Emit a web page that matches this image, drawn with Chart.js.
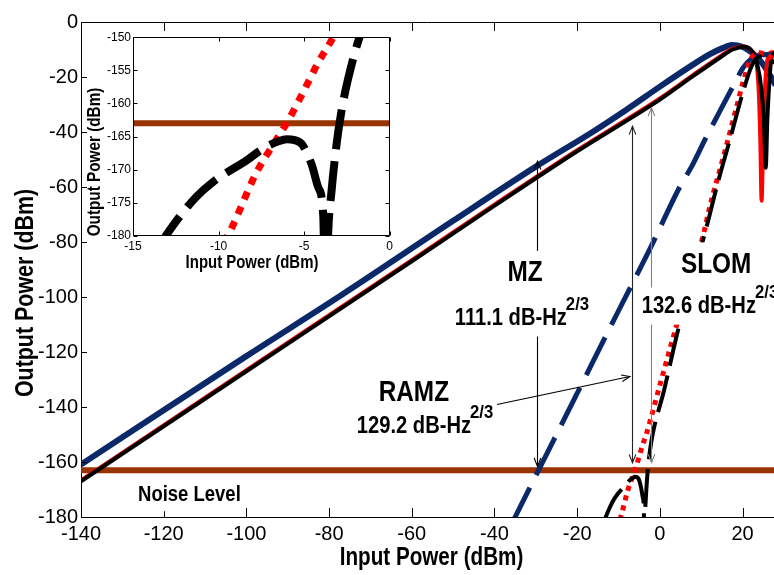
<!DOCTYPE html>
<html>
<head>
<meta charset="utf-8">
<script src="https://cdn.jsdelivr.net/npm/chart.js@4/dist/chart.umd.min.js"></script>
<style>
html,body{margin:0;padding:0;background:#fff;}
#wrap{position:relative;width:774px;height:575px;overflow:hidden;}
#main{position:absolute;left:0;top:0;}
#inset{position:absolute;left:84px;top:28px;}
</style>
</head>
<body>
<div id="wrap">
<canvas id="main" width="774" height="575"></canvas>
<canvas id="inset" width="312" height="248"></canvas>
</div>
<script>
// ---- Data: input power (dBm) -> output power (dBm) ----
const mzFundIn  = [-140, -100, -77, -50, -30, -16, -8, 0, 8, 12, 15, 17.4, 19.8, 22.2, 24.5, 26.5, 28];
const mzFundOut = [-160.9, -121.5, -99.3, -72.3, -52.6, -39.7, -31.8, -23.5, -15.5, -11.8, -9.6, -8.4, -8.9, -11.1, -14.5, -19, -23];

const mzImdIn  = [-36, -30, -20, -10, -2.4, 4.8, 7.7, 11, 14.1, 18, 20.1, 22, 24, 26, 28];
const mzImdOut = [-183, -165, -135, -105, -82.5, -60, -52.5, -42.5, -33.6, -22.5, -16.7, -13.5, -12, -11.8, -12.5];

const ramzFundIn  = [-140, -100, -60, -40, -20, 0, 8, 14.5, 17.6, 20.6, 22.5, 23.2, 23.9, 24.3, 24.6, 24.9, 25.4, 26.1, 27, 28];
const ramzFundOut = [-166.7, -126.6, -86.6, -66.4, -46.6, -27.8, -19.3, -12.6, -9.7, -8.9, -11, -13, -25, -43.5, -65, -49, -25, -13, -11, -11];

const ramzImdIn  = [-9.7, -9.29, -7.84, -6.68, -5.91, -4.94, -4.17, -3.3, 0, 4, 8, 10.4, 12.1, 15.3, 18.5, 20.1, 21.8, 23.5, 25, 27, 28];
const ramzImdOut = [-181, -179.1, -170.7, -165.7, -162.5, -157.7, -153.8, -150, -132, -110.5, -89.5, -78, -67, -49.4, -31.2, -22, -14, -11.2, -11.5, -13, -14];

const slomFundIn  = [-140, -100, -60, -40, -20, 0, 8, 14.5, 17.6, 20.5, 22.5, 23.4, 24.6, 25.2, 25.6, 26.0, 26.6, 27, 28];
const slomFundOut = [-167, -127, -87, -66.8, -47, -28.2, -19.7, -13, -10, -9, -11, -14.3, -25.2, -38, -53, -35, -19, -13, -11];

const slomImdIn  = [-13.6, -13.09, -12.28, -11.31, -10.35, -9.38, -8.42, -7.45, -6.49, -6.0, -5.23, -4.56, -4.17, -3.88, -3.75, -3.6, -3.4, -3.11, -2.82, -2.43, -1.76, 1, 4.4, 8, 11.3, 14, 16.9, 20.1, 22.2, 24, 25.5, 27, 28];
const slomImdOut = [-182, -180, -177.1, -174.1, -171.9, -170.2, -168.7, -166.9, -165.7, -165.4, -165.9, -169.2, -172.7, -177, -195, -180, -173.3, -166.3, -161.2, -156.3, -150, -134, -112, -92.5, -74.5, -58.5, -43, -25.5, -16, -12.5, -12.8, -14, -15];

const noiseIn  = [-140, 28];
const noiseOut = [-163, -163];

// ---- Tick values ----
const xTicksMain  = [-140, -120, -100, -80, -60, -40, -20, 0, 20];
const yTicksMain  = [-180, -160, -140, -120, -100, -80, -60, -40, -20, 0];
const xTicksInset = [-15, -10, -5, 0];
const yTicksInset = [-180, -175, -170, -165, -160, -155, -150];

// ---- Text ----
const noteTexts = ['MZ', '111.1 dB-Hz', 'RAMZ', '129.2 dB-Hz', 'SLOM', '132.6 dB-Hz', 'Noise Level'];
const supText = '2/3';
const xTitle = 'Input Power (dBm)';
const yTitle = 'Output Power (dBm)';

// ---- styling / placement ----
const NAVY = '#0b2868', RED = '#ff0000', BLACK = '#000000', BROWN = '#993300';
const notes = [
  {i:0, x:-32.6, y:-94.3, size:29, align:'center', below:0.68},
  {i:1, x:-49.6, y:-110.0, size:24, sup:true, below:0.5},
  {i:2, x:-59.5, y:-137.9, size:29, align:'center', below:0.5},
  {i:3, x:-73.3, y:-149.4, size:24, sup:true, below:0.5},
  {i:4, x:13.6, y:-91.2, size:29, align:'center', below:0.6},
  {i:5, x:-4.4, y:-105.7, size:24, sup:true, below:0.5},
  {i:6, x:-126.2, y:-174.3, size:22, below:0.45}
];
const vArrows = [
  {x:-29.7, from:-50.6, to:-161.6, color:'#000'},
  {x:-6.8, from:-37.9, to:-160.3, color:'#222'},
  {x:-2.2, from:-31.2, to:-160.2, color:'#808080'}
];
const slantArrow = {from:[-39.4,-139.1], to:[-7.25,-128.9]};

const pts = (xs, ys) => xs.map((x, i) => ({x, y: ys[i]}));
const FONT = "'Liberation Sans', Arial, sans-serif";

function measure(ctx, str, size, sx) {
  ctx.save(); ctx.font = 'bold ' + size + 'px ' + FONT;
  const w = ctx.measureText(str).width * sx; ctx.restore(); return w;
}
function condText(ctx, str, x, y, size, sx, rot) {
  ctx.save();
  ctx.font = 'bold ' + size + 'px ' + FONT;
  ctx.textBaseline = 'alphabetic';
  ctx.textAlign = 'left';
  ctx.translate(x, y);
  if (rot) ctx.rotate(rot);
  ctx.scale(sx, 1);
  ctx.fillStyle = '#000';
  ctx.fillText(str, 0, 0);
  ctx.restore();
}
function arrowHead(ctx, x1, y1, x2, y2) {
  const ang = Math.atan2(y2 - y1, x2 - x1), L = 9, A = 0.38;
  ctx.beginPath();
  ctx.moveTo(x2 - L * Math.cos(ang - A), y2 - L * Math.sin(ang - A));
  ctx.lineTo(x2, y2);
  ctx.lineTo(x2 - L * Math.cos(ang + A), y2 - L * Math.sin(ang + A));
  ctx.stroke();
}

const mainDeco = {
  id: 'mainDeco',
  afterDraw(chart) {
    const {ctx, chartArea: a} = chart;
    const X = chart.scales.x, Y = chart.scales.y;
    const px = v => X.getPixelForValue(v), py = v => Y.getPixelForValue(v);
    ctx.save();
    ctx.strokeStyle = '#000'; ctx.lineWidth = 1;
    ctx.beginPath();
    const top = Math.round(a.top) + 0.5;
    ctx.moveTo(a.left, top); ctx.lineTo(a.right, top);
    X.ticks.forEach(t => {
      const xx = Math.round(px(t.value)) + 0.5;
      ctx.moveTo(xx, a.bottom); ctx.lineTo(xx, a.bottom - 9);
      ctx.moveTo(xx, a.top); ctx.lineTo(xx, a.top + 9);
    });
    Y.ticks.forEach(t => {
      const yy = Math.round(py(t.value)) + 0.5;
      ctx.moveTo(a.left, yy); ctx.lineTo(a.left + 6, yy);
    });
    ctx.stroke();
    // arrows
    vArrows.forEach(ar => {
      ctx.strokeStyle = ar.color; ctx.lineWidth = 1.1;
      const xx = Math.round(px(ar.x)) + 0.5;
      ctx.beginPath(); ctx.moveTo(xx, py(ar.from)); ctx.lineTo(xx, py(ar.to)); ctx.stroke();
      arrowHead(ctx, xx, py(ar.from) + 20, xx, py(ar.from));
      arrowHead(ctx, xx, py(ar.to) - 20, xx, py(ar.to));
    });
    ctx.strokeStyle = '#000'; ctx.lineWidth = 1.1;
    const fx = px(slantArrow.from[0]), fy = py(slantArrow.from[1]);
    const tx = px(slantArrow.to[0]), ty = py(slantArrow.to[1]);
    ctx.beginPath(); ctx.moveTo(fx, fy); ctx.lineTo(tx, ty); ctx.stroke();
    arrowHead(ctx, fx, fy, tx, ty);
    // text with white background boxes
    const SX = 0.84, SUPSX = 0.88, SUP = 19;
    notes.forEach(n => {
      const str = noteTexts[n.i];
      const w = measure(ctx, str, n.size, SX);
      const x0 = n.align === 'center' ? px(n.x) - w / 2 : px(n.x);
      const base = py(n.y);
      let right = x0 + w;
      if (n.sup) right += measure(ctx, supText, SUP, SUPSX) - 1;
      ctx.fillStyle = '#fff';
      ctx.fillRect(x0 - 4, base - n.size * 1.05, right - x0 + 8, n.size * (1.05 + n.below));
      condText(ctx, str, x0, base, n.size, SX);
      if (n.sup) condText(ctx, supText, x0 + w - 1, base - 15, SUP, SUPSX);
    });
    // axis titles (condensed bold)
    const tw = measure(ctx, xTitle, 25.5, 0.81);
    condText(ctx, xTitle, (a.left + a.right) / 2 + 4 - tw / 2, 565, 25.5, 0.81);
    const yw = measure(ctx, yTitle, 25.5, 0.84);
    condText(ctx, yTitle, 33, 293 + yw / 2, 25.5, 0.84, -Math.PI / 2);
    ctx.restore();
  }
};

const insetDeco = {
  id: 'insetDeco',
  afterDraw(chart) {
    const {ctx, chartArea: a} = chart;
    const X = chart.scales.x, Y = chart.scales.y;
    ctx.save();
    ctx.strokeStyle = '#000'; ctx.lineWidth = 1;
    ctx.beginPath();
    const l = Math.round(a.left) + 0.5, r = Math.round(a.right) - 0.5, t = Math.round(a.top) + 0.5, b = Math.round(a.bottom) - 0.5;
    ctx.rect(l, t, r - l, b - t);
    X.ticks.forEach(tk => {
      const xx = Math.round(X.getPixelForValue(tk.value)) + 0.5;
      ctx.moveTo(xx, b); ctx.lineTo(xx, b - 4);
      ctx.moveTo(xx, t); ctx.lineTo(xx, t + 4);
    });
    Y.ticks.forEach(tk => {
      const yy = Math.round(Y.getPixelForValue(tk.value)) + 0.5;
      ctx.moveTo(l, yy); ctx.lineTo(l + 4, yy);
      ctx.moveTo(r, yy); ctx.lineTo(r - 4, yy);
    });
    ctx.stroke();
    const tw = measure(ctx, xTitle, 18, 0.83);
    condText(ctx, xTitle, 168 - tw / 2, 240, 18, 0.83);
    const yw = measure(ctx, yTitle, 18, 0.85);
    condText(ctx, yTitle, 16, 134 + yw / 2, 18, 0.85, -Math.PI / 2);
    ctx.restore();
  }
};

function line(data, color, width, dash, order) {
  return {data, borderColor: color, backgroundColor: color, borderWidth: width, borderDash: dash || [],
    pointRadius: 0, showLine: true, fill: false, cubicInterpolationMode: 'monotone', order,
    borderJoinStyle: 'round'};
}

new Chart(document.getElementById('main'), {
  type: 'scatter',
  data: {
    datasets: [
      line(pts(slomImdIn, slomImdOut), BLACK, 4, [38, 10], 1),
      line(pts(ramzImdIn, ramzImdOut), RED, 5, [5, 5], 2),
      line(pts(mzImdIn, mzImdOut), NAVY, 5, [42, 14], 3),
      line(pts(slomFundIn, slomFundOut), BLACK, 4, null, 4),
      line(pts(ramzFundIn, ramzFundOut), RED, 4, null, 5),
      line(pts(mzFundIn, mzFundOut), NAVY, 6, null, 6),
      {...line(pts(noiseIn, noiseOut), BROWN, 6, null, 7), cubicInterpolationMode: 'default', tension: 0}
    ]
  },
  options: {
    responsive: false, animation: false, devicePixelRatio: 1,
    layout: {padding: {top: 22, right: 0, bottom: 0, left: 0}},
    plugins: {legend: {display: false}, tooltip: {enabled: false}},
    scales: {
      x: {
        type: 'linear', min: -140, max: 27.6,
        afterBuildTicks: s => { s.ticks = xTicksMain.map(v => ({value: v})); },
        afterFit: s => { s.height = 58; },
        ticks: {color: '#000', font: {family: FONT, size: 20}, padding: 5, maxRotation: 0, autoSkip: false},
        grid: {display: false, drawTicks: false},
        border: {display: true, color: '#000', width: 1},
        title: {display: false}
      },
      y: {
        type: 'linear', min: -180, max: 0,
        afterBuildTicks: s => { s.ticks = yTicksMain.map(v => ({value: v})); },
        afterFit: s => { s.width = 81; },
        ticks: {color: '#000', font: {family: FONT, size: 20}, padding: 3, autoSkip: false},
        grid: {display: false, drawTicks: false},
        border: {display: true, color: '#000', width: 1},
        title: {display: false}
      }
    }
  },
  plugins: [mainDeco]
});

new Chart(document.getElementById('inset'), {
  type: 'scatter',
  data: {
    datasets: [
      line(pts(slomImdIn, slomImdOut), BLACK, 8, [40, 12], 1),
      line(pts(ramzImdIn, ramzImdOut), RED, 7, [8, 8], 2),
      {...line(pts(noiseIn, noiseOut), BROWN, 6, null, 3), cubicInterpolationMode: 'default', tension: 0}
    ]
  },
  options: {
    responsive: false, animation: false, devicePixelRatio: 1,
    layout: {padding: {top: 7, right: 4, bottom: 0, left: 0}},
    plugins: {legend: {display: false}, tooltip: {enabled: false}},
    scales: {
      x: {
        type: 'linear', min: -15, max: 0,
        afterBuildTicks: s => { s.ticks = xTicksInset.map(v => ({value: v})); },
        afterFit: s => { s.height = 40; },
        ticks: {color: '#000', font: {family: FONT, size: 12}, padding: 3, maxRotation: 0, autoSkip: false},
        grid: {display: false, drawTicks: false},
        border: {display: false},
        title: {display: false}
      },
      y: {
        type: 'linear', min: -180, max: -150,
        afterBuildTicks: s => { s.ticks = yTicksInset.map(v => ({value: v})); },
        afterFit: s => { s.width = 49; },
        ticks: {color: '#000', font: {family: FONT, size: 12}, padding: 2, autoSkip: false},
        grid: {display: false, drawTicks: false},
        border: {display: false},
        title: {display: false}
      }
    }
  },
  plugins: [insetDeco]
});
</script>
</body>
</html>
